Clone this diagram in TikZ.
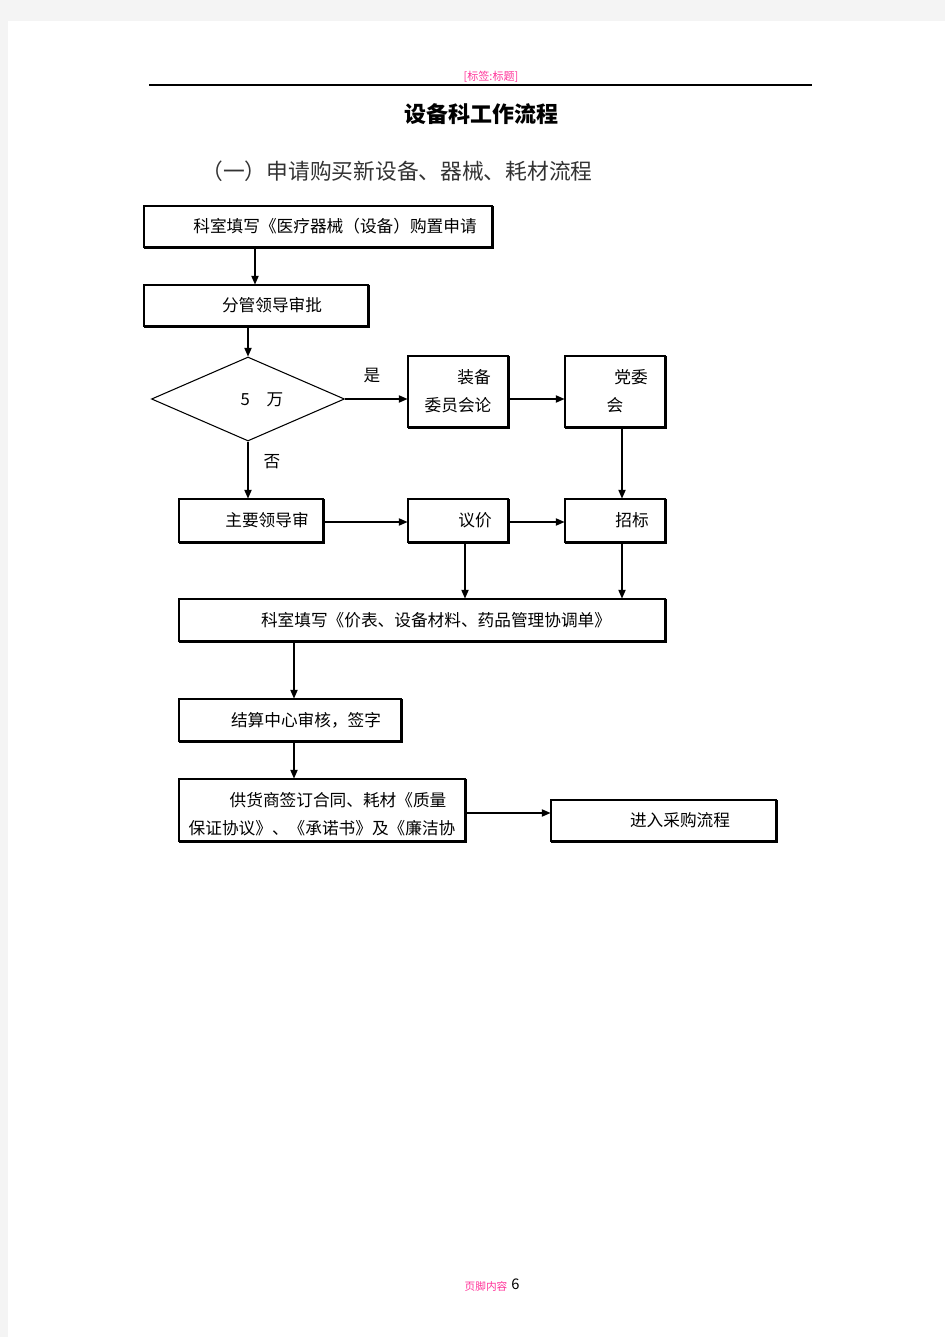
\documentclass[tikz,border=0pt]{standalone}
\usepackage{fontspec}
\setmainfont{Noto Sans CJK SC}
\usetikzlibrary{arrows.meta,shapes.geometric,fit,shadows}
\definecolor{pagegray}{HTML}{F4F4F4}
\definecolor{hdrpink}{HTML}{FF3399}
\definecolor{subgray}{HTML}{333333}
\newcommand{\boxfont}{\fontsize{12.5pt}{15pt}\selectfont}
\begin{document}
\begin{tikzpicture}[x=0.75pt,y=-0.75pt,
  box/.style={draw, line width=0.8pt, fill=white, inner sep=0pt, rectangle,
    copy shadow={shadow xshift=0.75pt, shadow yshift=-0.75pt}},
  arr/.style={line width=0.8pt, -{Triangle[length=6.5pt,width=5.5pt]}},
  lbl/.style={inner sep=0pt, font=\boxfont},
]
% page
\fill[pagegray] (0,0) rectangle (945,1337);
\fill[white] (8,21) rectangle (945,1337);
\useasboundingbox (0,0) rectangle (945,1337);

% header
\node[inner sep=0pt, font=\fontsize{8.3pt}{10pt}\selectfont, text=hdrpink] (hdr) at (491,77) {[标签:标题]};
\coordinate (hl) at (149,85);
\coordinate (hr) at (812,85);
\draw[line width=0.8pt] (hl) -- (hr);

% titles
\node[inner sep=0pt, font=\fontsize{16.5pt}{20pt}\selectfont\bfseries] (title) at (481,114) {设备科工作流程};
\node[inner sep=0pt, font=\fontsize{16.3pt}{20pt}\selectfont, text=subgray] (sub) at (397,171) {（一）申请购买新设备、器械、耗材流程};

% boxes
\node[box, fit={(144,206) (492,247)}] (A) {};
\node[box, fit={(144,285) (368,326)}] (B) {};
\node[draw, line width=0.8pt, diamond, fill=white, inner sep=0pt, minimum width=144.75pt, minimum height=63pt, shape aspect=2.3] (dm) at (248,399) {};
\node[box, fit={(408,356) (508,427)}] (C) {};
\node[box, fit={(565,356) (665,427)}] (D) {};
\node[box, fit={(179,499) (323,542)}] (E) {};
\node[box, fit={(408,499) (508,542)}] (F) {};
\node[box, fit={(565,499) (665,542)}] (G) {};
\node[box, fit={(179,599) (665,641)}] (H) {};
\node[box, fit={(179,699) (401,741)}] (I) {};
\node[box, fit={(179,779) (465,841)}] (J) {};
\node[box, fit={(551,800) (776,841)}] (K) {};

% texts
\node[lbl] (tA) at (335,226) {科室填写《医疗器械（设备）购置申请};
\node[lbl] (tB) at (272,305) {分管领导审批};
\node[lbl] (tdm) at (262,400) {5　万};
\node[lbl] (tyes) at (372,376) {是};
\node[lbl] (tno) at (272,462) {否};
\node[lbl] (tC1) at (474,377) {装备};
\node[lbl] (tC2) at (458,405) {委员会论};
\node[lbl] (tD1) at (631,377) {党委};
\node[lbl] (tD2) at (615,405) {会};
\node[lbl] (tE) at (267,520) {主要领导审};
\node[lbl] (tF) at (475,520) {议价};
\node[lbl] (tG) at (632,520) {招标};
\node[lbl] (tH) at (436,620) {科室填写《价表、设备材料、药品管理协调单》};
\node[lbl] (tI) at (306,720) {结算中心审核，签字};
\node[lbl] (tJ1) at (338,800) {供货商签订合同、耗材《质量};
\node[lbl] (tJ2) at (322,828) {保证协议》、《承诺书》及《廉洁协};
\node[lbl] (tK) at (680,820) {进入采购流程};

% helper coordinates
\coordinate (xa) at (255,0);
\coordinate (xf) at (465,0);
\coordinate (xg) at (622,0);
\coordinate (xh) at (294,0);
\coordinate (ye) at (0,522);
\coordinate (yj) at (0,813);

% connectors
\draw[arr] (A.south -| xa) -- (B.north -| xa);
\draw[arr] (B.south -| dm.north) -- (dm.north);
\draw[arr] (dm.east) -- (C.west |- dm.east);
\draw[arr] (C.east |- dm.east) -- (D.west |- dm.east);
\draw[arr] (dm.south) -- (E.north -| dm.south);
\draw[arr] (D.south -| xg) -- (G.north -| xg);
\draw[arr] (E.east |- ye) -- (F.west |- ye);
\draw[arr] (F.east |- ye) -- (G.west |- ye);
\draw[arr] (F.south -| xf) -- (H.north -| xf);
\draw[arr] (G.south -| xg) -- (H.north -| xg);
\draw[arr] (H.south -| xh) -- (I.north -| xh);
\draw[arr] (I.south -| xh) -- (J.north -| xh);
\draw[arr] (J.east |- yj) -- (K.west |- yj);

% footer
\node[inner sep=0pt, font=\fontsize{8pt}{10pt}\selectfont, text=hdrpink] (foot) at (486,1286) {页脚内容};
\node[inner sep=0pt, font=\fontsize{11pt}{13pt}\selectfont, anchor=west] (pg) at (511,1284) {6};
\end{tikzpicture}
\end{document}
